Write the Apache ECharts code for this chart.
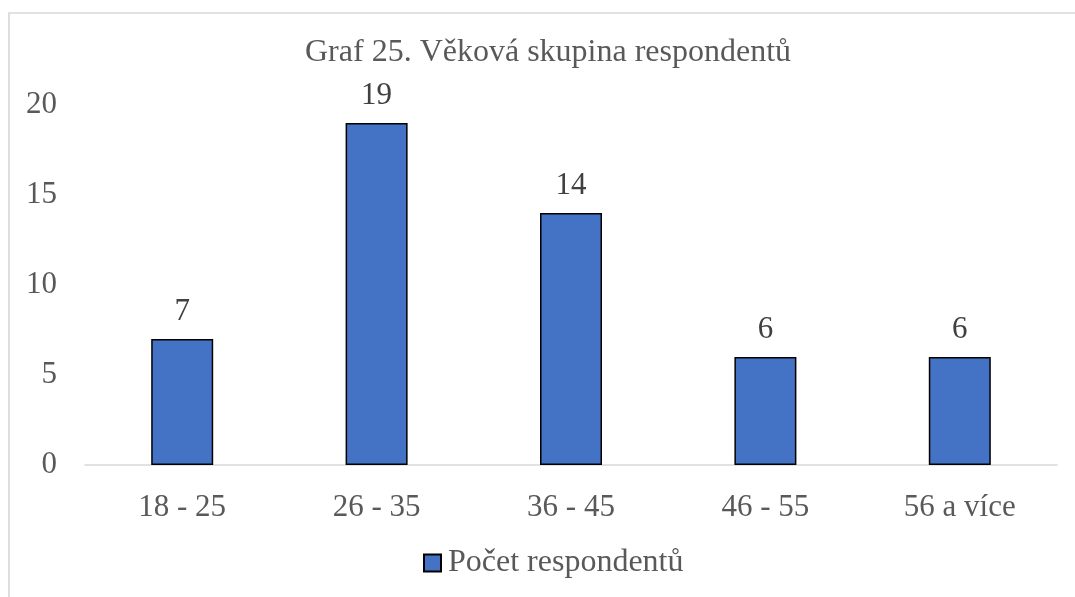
<!DOCTYPE html>
<html>
<head>
<meta charset="utf-8">
<script src="https://cdn.jsdelivr.net/npm/echarts@6/dist/echarts.min.js"></script>
<style>
  html, body { margin: 0; padding: 0; background: #fff; }
  #chart { width: 1075px; height: 597px; }
</style>
</head>
<body>
<div id="chart"></div>
<script>
// Age groups of respondents
const categories = ['18 - 25', '26 - 35', '36 - 45', '46 - 55', '56 a více'];
const counts = [7, 19, 14, 6, 6];
const yTicks = [0, 5, 10, 15, 20];
const seriesName = 'Počet respondentů';
const titleText = 'Graf 25. Věková skupina respondentů';

const FONT = '"Liberation Serif", "Times New Roman", serif';
const chart = echarts.init(document.getElementById('chart'), null, { renderer: 'canvas' });

chart.setOption({
  backgroundColor: '#ffffff',
  animation: false,
  title: {
    text: titleText,
    left: 300,
    top: 32,
    textStyle: { fontFamily: FONT, fontSize: 32, fontWeight: 'normal', color: '#595959' }
  },
  legend: {
    bottom: 13,
    left: 418,
    itemWidth: 17,
    itemHeight: 17,
    itemGap: 10,
    icon: 'rect',
    textStyle: { fontFamily: FONT, fontSize: 32, color: '#595959', padding: [0, 0, 0, 2] },
    data: [seriesName]
  },
  graphic: [{
    type: 'rect',
    shape: { x: 9, y: 13, width: 1200, height: 800 },
    style: { fill: 'none', stroke: '#d9d9d9', lineWidth: 1.7 },
    silent: true,
    z: -1
  }],
  grid: { left: 85, right: 18, top: 105, bottom: 132, containLabel: false },
  xAxis: {
    type: 'category',
    data: categories,
    axisLine: { lineStyle: { color: '#d9d9d9', width: 1.5 } },
    axisTick: { show: false },
    axisLabel: { fontFamily: FONT, fontSize: 31, color: '#595959', margin: 27 }
  },
  yAxis: {
    type: 'value',
    min: yTicks[0],
    max: yTicks[yTicks.length - 1],
    interval: yTicks[1] - yTicks[0],
    axisLine: { show: false },
    axisTick: { show: false },
    splitLine: { show: false },
    axisLabel: { fontFamily: FONT, fontSize: 31, color: '#595959', margin: 28, padding: [6, 0, 0, 0] }
  },
  series: [{
    name: seriesName,
    type: 'bar',
    data: counts,
    barWidth: 62,
    itemStyle: { color: '#4472C4', borderColor: '#000000', borderWidth: 1.5 },
    label: {
      show: true,
      position: 'top',
      distance: 12,
      fontFamily: FONT,
      fontSize: 31,
      color: '#404040'
    }
  }]
});
</script>
</body>
</html>
